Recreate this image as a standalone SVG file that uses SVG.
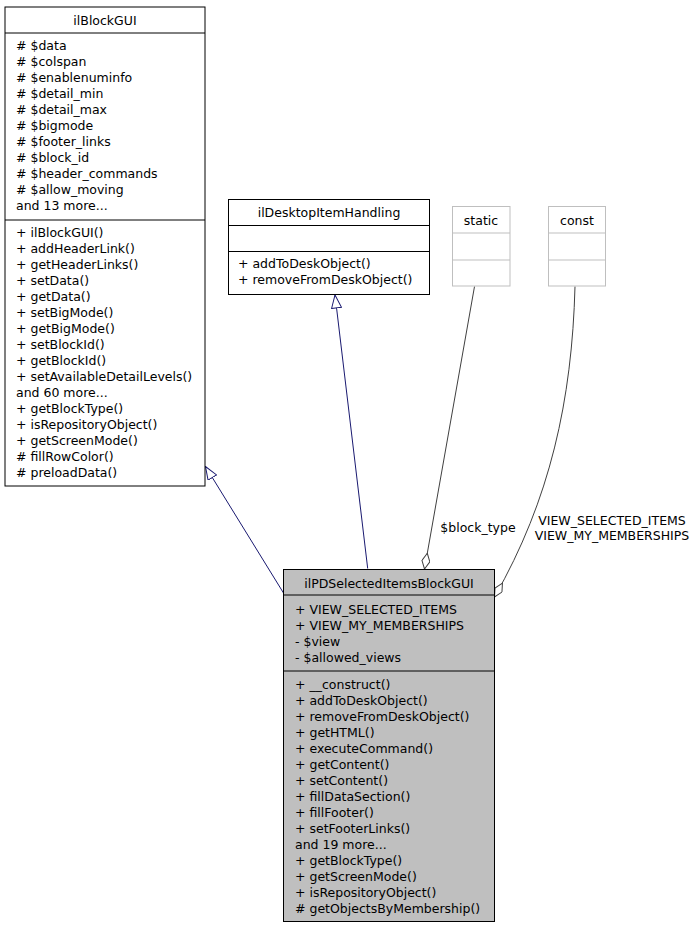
<svg xmlns="http://www.w3.org/2000/svg" width="696" height="928" viewBox="0 0 696 928">
<defs>
<style>
text{font-family:"DejaVu Sans","Liberation Sans",sans-serif;font-size:12.5px;fill:#000}
.c{text-anchor:middle}
.box{fill:#fff;stroke:#000;stroke-width:1}
.main{fill:#bfbfbf;stroke:#000;stroke-width:1}
.sep{stroke:#000;stroke-width:1}
.gbox{fill:#fff;stroke:#bfbfbf;stroke-width:1}
.gsep{stroke:#bfbfbf;stroke-width:1}
.inh{fill:none;stroke:#191970;stroke-width:1;marker-end:url(#tri)}
.use{fill:none;stroke:#404040;stroke-width:1;marker-end:url(#dia)}
</style>
<marker id="tri" viewBox="0 0 14 11" refX="13.5" refY="5.5" markerWidth="14" markerHeight="11" markerUnits="userSpaceOnUse" orient="auto">
<path d="M0.5,0.5 L13.5,5.5 L0.5,10.5 Z" fill="#fff" stroke="#191970" stroke-width="1"/>
</marker>
<marker id="dia" viewBox="0 0 17 9" refX="16.5" refY="4.5" markerWidth="17" markerHeight="9" markerUnits="userSpaceOnUse" orient="auto">
<path d="M0.5,4.5 L8.5,0.5 L16.5,4.5 L8.5,8.5 Z" fill="#fff" stroke="#404040" stroke-width="1"/>
</marker>
</defs>
<rect width="696" height="928" fill="#fff"/>

<g id="edges">
<path class="inh" d="M283.5,593 L205.5,466.5"/>
<path class="inh" d="M367.7,568.5 L335,295"/>
<path class="use" d="M474.5,286.5 L424.5,569"/>
<path class="use" d="M575,286.5 C572,400 550,500 494.5,597"/>
<text class="c" x="478" y="531.5">$block_type</text>
<text class="c" x="612" y="525">VIEW_SELECTED_ITEMS</text>
<text class="c" x="612" y="539.5">VIEW_MY_MEMBERSHIPS</text>
</g>

<g id="ilBlockGUI">
<rect class="box" x="5" y="7" width="200" height="479"/>
<line class="sep" x1="5" y1="33" x2="205" y2="33"/>
<line class="sep" x1="5" y1="220" x2="205" y2="220"/>
<text class="c" x="105" y="24.5">ilBlockGUI</text>
<text x="16" y="49.5"># $data</text>
<text x="16" y="65.5"># $colspan</text>
<text x="16" y="81.5"># $enablenuminfo</text>
<text x="16" y="97.5"># $detail_min</text>
<text x="16" y="113.5"># $detail_max</text>
<text x="16" y="129.5"># $bigmode</text>
<text x="16" y="145.5"># $footer_links</text>
<text x="16" y="161.5"># $block_id</text>
<text x="16" y="177.5"># $header_commands</text>
<text x="16" y="193.5"># $allow_moving</text>
<text x="16" y="209.5">and 13 more...</text>
<text x="16" y="236.5">+ ilBlockGUI()</text>
<text x="16" y="252.5">+ addHeaderLink()</text>
<text x="16" y="268.5">+ getHeaderLinks()</text>
<text x="16" y="284.5">+ setData()</text>
<text x="16" y="300.5">+ getData()</text>
<text x="16" y="316.5">+ setBigMode()</text>
<text x="16" y="332.5">+ getBigMode()</text>
<text x="16" y="348.5">+ setBlockId()</text>
<text x="16" y="364.5">+ getBlockId()</text>
<text x="16" y="380.5">+ setAvailableDetailLevels()</text>
<text x="16" y="396.5">and 60 more...</text>
<text x="16" y="412.5">+ getBlockType()</text>
<text x="16" y="428.5">+ isRepositoryObject()</text>
<text x="16" y="444.5">+ getScreenMode()</text>
<text x="16" y="460.5"># fillRowColor()</text>
<text x="16" y="476.5"># preloadData()</text>
</g>

<g id="ilDesktopItemHandling">
<rect class="box" x="228.5" y="199.5" width="201" height="95"/>
<line class="sep" x1="228.5" y1="225.5" x2="429.5" y2="225.5"/>
<line class="sep" x1="228.5" y1="251.5" x2="429.5" y2="251.5"/>
<text class="c" x="329" y="217">ilDesktopItemHandling</text>
<text x="238" y="268">+ addToDeskObject()</text>
<text x="238" y="284">+ removeFromDeskObject()</text>
</g>

<g id="static">
<rect class="gbox" x="452.5" y="206.5" width="57.5" height="79.5"/>
<line class="gsep" x1="452.5" y1="233" x2="510" y2="233"/>
<line class="gsep" x1="452.5" y1="260" x2="510" y2="260"/>
<text class="c" x="481" y="224.5">static</text>
</g>

<g id="const">
<rect class="gbox" x="548.5" y="206.5" width="57" height="79.5"/>
<line class="gsep" x1="548.5" y1="233" x2="605.5" y2="233"/>
<line class="gsep" x1="548.5" y1="260" x2="605.5" y2="260"/>
<text class="c" x="577" y="224.5">const</text>
</g>

<g id="ilPDSelectedItemsBlockGUI">
<rect class="main" x="283.5" y="569.5" width="211" height="352"/>
<line class="sep" x1="283.5" y1="595" x2="494.5" y2="595"/>
<line class="sep" x1="283.5" y1="671" x2="494.5" y2="671"/>
<text class="c" x="389" y="587.5">ilPDSelectedItemsBlockGUI</text>
<text x="295" y="613.5">+ VIEW_SELECTED_ITEMS</text>
<text x="295" y="629.5">+ VIEW_MY_MEMBERSHIPS</text>
<text x="295" y="645.5">- $view</text>
<text x="295" y="661.5">- $allowed_views</text>
<text x="295" y="688.5">+ __construct()</text>
<text x="295" y="704.5">+ addToDeskObject()</text>
<text x="295" y="720.5">+ removeFromDeskObject()</text>
<text x="295" y="736.5">+ getHTML()</text>
<text x="295" y="752.5">+ executeCommand()</text>
<text x="295" y="768.5">+ getContent()</text>
<text x="295" y="784.5">+ setContent()</text>
<text x="295" y="800.5">+ fillDataSection()</text>
<text x="295" y="816.5">+ fillFooter()</text>
<text x="295" y="832.5">+ setFooterLinks()</text>
<text x="295" y="848.5">and 19 more...</text>
<text x="295" y="864.5">+ getBlockType()</text>
<text x="295" y="880.5">+ getScreenMode()</text>
<text x="295" y="896.5">+ isRepositoryObject()</text>
<text x="295" y="912.5"># getObjectsByMembership()</text>
</g>
</svg>
